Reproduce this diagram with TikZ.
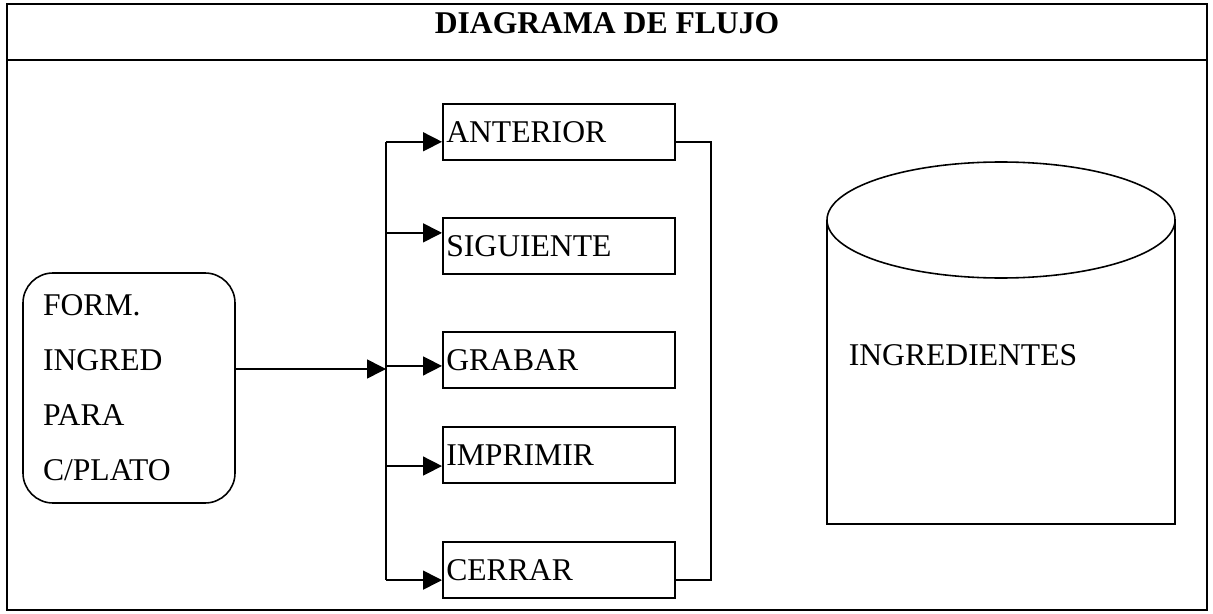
\documentclass[tikz,border=0pt]{standalone}
\usepackage{fontspec}
\setmainfont{Liberation Serif}
\usepackage{tikz}
\usetikzlibrary{positioning}
\usetikzlibrary{calc}
\usetikzlibrary{arrows.meta}

\begin{document}
\begin{tikzpicture}[line width=0.9pt,
	boton/.style={draw, minimum height=1.12cm, text width=4.5cm, inner xsep=0.07cm, align=left, font=\fontsize{18}{22}\selectfont},
	flecha/.style={-{Triangle[length=0.38cm, width=0.38cm]}},
	]
	\useasboundingbox (0,0) rectangle (24.26,12.26);
	% Frame and title
	\draw [line width=0.7pt] (0.14,0.06) rectangle (24.14,12.18);
	\draw [line width=0.7pt] (0.14,11.06) -- (24.14,11.06);
	\node at (12.14,11.8) (titulo) {\fontsize{18}{22}\selectfont\bfseries DIAGRAMA DE FLUJO};
	% Form
	\node [draw, rounded corners=0.6cm, minimum width=4.24cm, minimum height=4.6cm, text width=3.44cm, inner xsep=0.4cm, align=left, font=\fontsize{18}{31.3}\selectfont] at (2.58,4.5) (form) {FORM.\\INGRED\\PARA\\C/PLATO};
	% Buttons
	\node [boton, anchor=north west] at (8.84,10.2) (anterior) {ANTERIOR};
	\node [boton, below=1.13cm of anterior] (siguiente) {SIGUIENTE};
	\node [boton, below=1.13cm of siguiente] (grabar) {GRABAR};
	\node [boton, below=0.75cm of grabar] (imprimir) {IMPRIMIR};
	\node [boton, below=1.15cm of imprimir] (cerrar) {CERRAR};
	% Entry points
	\coordinate (eAnt) at ($(anterior.west)+(0,-0.2)$);
	\coordinate (eSig) at ($(siguiente.west)+(0,0.26)$);
	\coordinate (eGra) at ($(grabar.west)+(0,-0.12)$);
	\coordinate (eImp) at ($(imprimir.west)+(0,-0.22)$);
	\coordinate (eCer) at ($(cerrar.west)+(0,-0.2)$);
	\coordinate (bus) at (7.72,0);
	\coordinate (retorno) at (14.22,0);
	\coordinate (sForm) at ($(form.east)+(0,0.38)$);
	% Database
	\draw (16.54,7.86) -- (16.54,1.78) -- (23.50,1.78) -- (23.50,7.86);
	\draw (20.02,7.86) ellipse [x radius=3.48, y radius=1.16];
	\node [anchor=west, inner sep=0pt, font=\fontsize{18}{22}\selectfont] at (16.96,5.16) (ingredientes) {INGREDIENTES};
	
	% Draw the paths between nodes
	\draw [flecha] (sForm) -- (bus |- sForm);
	\draw (bus |- eAnt) -- (bus |- eCer);
	\foreach \b in {Ant,Sig,Gra,Imp,Cer}
		\draw [flecha] (bus |- e\b) -- (e\b);
	\draw (eAnt -| anterior.east) -- (eAnt -| retorno) -- (eCer -| retorno) -- (eCer -| cerrar.east);
	
\end{tikzpicture}
\end{document}
